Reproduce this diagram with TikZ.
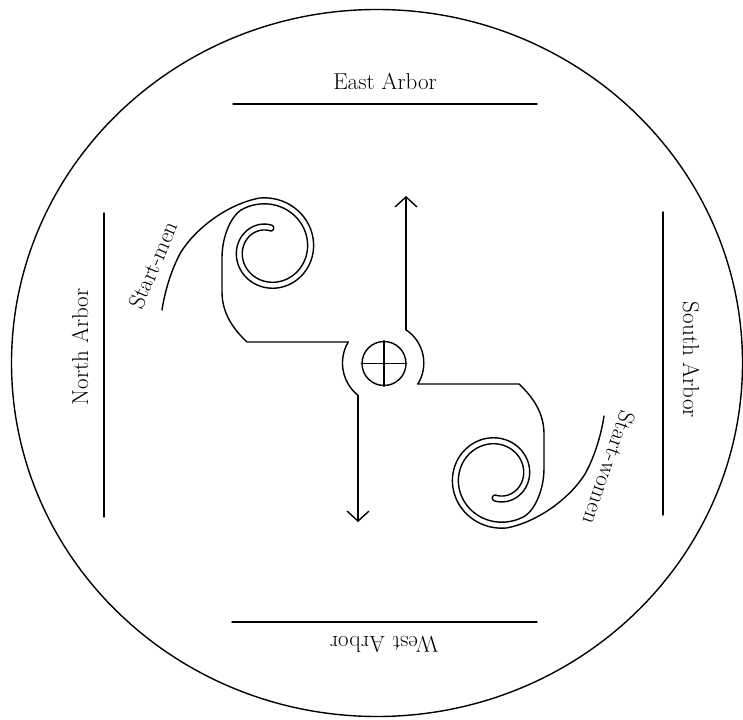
\documentclass[tikz,border=0pt]{standalone}
\usetikzlibrary{arrows.meta}
\newcommand{\drawarm}{%
 \draw (162,310) .. controls (165,290) and (172,268) .. (181,252)
   .. controls (196,228) and (228,204) .. (259.3,198.1)
   -- plot[domain=-100:276,samples=150] ({268.4+(45-0.07333*\x)*cos(\x)},{249.6+(45-0.07333*\x)*sin(\x)})
   -- plot[domain=0:180,samples=19] ({270.67+3*cos(276+\x)},{227.96+3*sin(276+\x)})
   -- plot[domain=276:-125,samples=150] ({268.4+(39-0.07333*\x)*cos(\x)},{249.6+(39-0.07333*\x)*sin(\x)})
   .. controls (231,217) and (222,236) .. (222,258)
   -- (222,292) .. controls (222,312) and (232,328) .. (247,342) -- (348.2,342);}
\begin{document}
\begin{tikzpicture}[x=1pt,y=-1pt,line width=1.4pt,line cap=round,line join=round,
  lbl/.style={font=\fontsize{23}{27}\selectfont,inner sep=0pt},
  arrowline/.style={-{Straight Barb[length=10pt,width=22pt]}}]
\useasboundingbox (0,0) rectangle (743,719);
% outer boundary
\draw (377,363) ellipse [x radius=365.5pt, y radius=353.5pt];
% arbors
\draw (233,104) -- (537,104);
\draw (232,622) -- (537,622);
\draw (104,213) -- (104,517);
\draw (663,212) -- (663,515);
\node[lbl,anchor=base] (east) at (385,90) {East Arbor};
\node[lbl,anchor=base,rotate=180] (west) at (384,636) {West Arbor};
\node[lbl,anchor=base,rotate=90] (north) at (88,347) {North Arbor};
\node[lbl,anchor=base,rotate=-90] (south) at (683,360) {South Arbor};
\node[lbl,rotate=67] (smen) at (153,265) {Start-men};
\node[lbl,rotate=-109] (swomen) at (609,468) {Start-women};
% spiral arms
\drawarm
\begin{scope}[rotate around={180:(383,363)}]
\drawarm
\end{scope}
% arcs around hub
\draw plot[domain=210.4:128.8,samples=40] ({384+41.5*cos(\x)},{363+41.5*sin(\x)});
\draw plot[domain=31.85:-56.44,samples=40] ({384+39.8*cos(\x)},{363+39.8*sin(\x)});
\coordinate (mstart) at (358,395.3);
\coordinate (mtip) at (358,522);
\coordinate (wstart) at (406,329.8);
\coordinate (wtip) at (406,196);
\draw[arrowline] (mstart) -- (mtip);
\draw[arrowline] (wstart) -- (wtip);
% hub
\node[draw,circle,minimum size=44pt,inner sep=0pt] (hub) at (384,363.5) {};
\draw (hub.north) -- (hub.south);
\draw (hub.west) -- (hub.east);
\end{tikzpicture}
\end{document}
